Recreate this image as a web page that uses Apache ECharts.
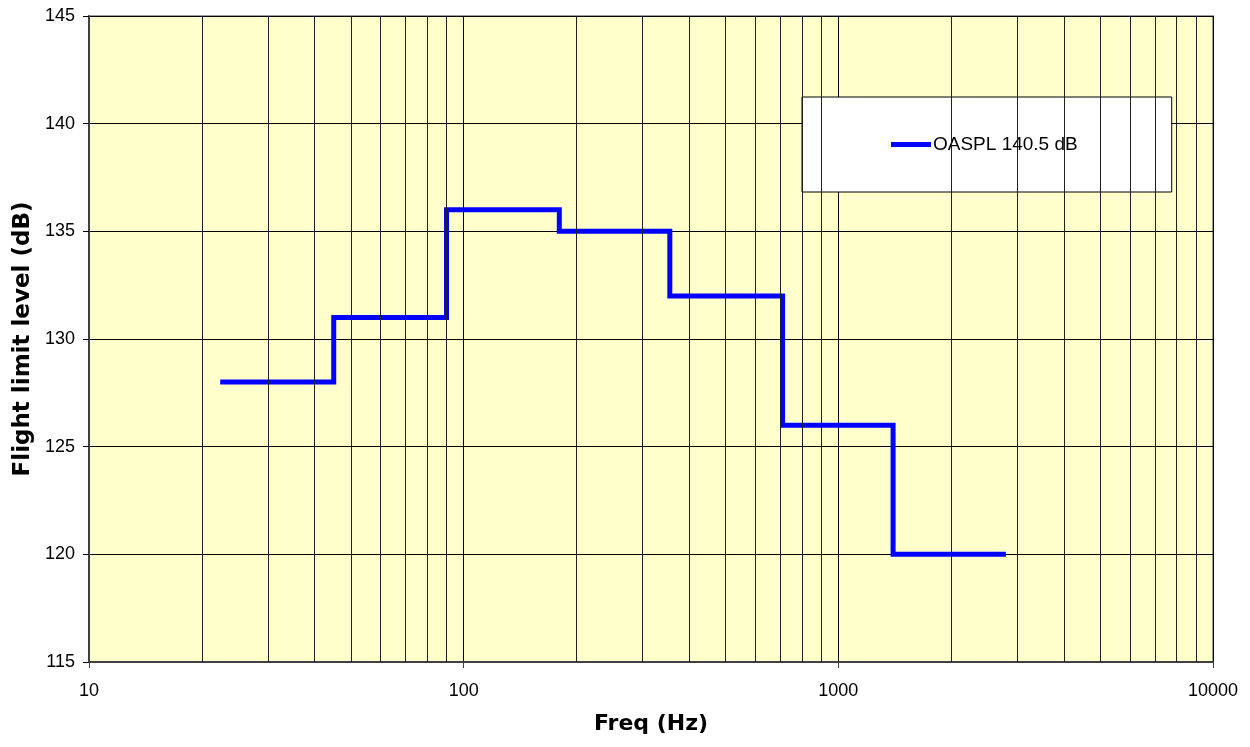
<!DOCTYPE html>
<html>
<head>
<meta charset="utf-8">
<title>Flight limit level</title>
<script src="https://cdn.jsdelivr.net/npm/echarts@6/dist/echarts.min.js"></script>
<style>
  html, body { margin: 0; padding: 0; background: #ffffff; }
  #chart { width: 1250px; height: 747px; }
</style>
</head>
<body>
<div id="chart"></div>
<script>
// Octave band edges (Hz) and the flight limit level in each band (dB)
const bandEdges = [22.4, 45, 90, 180, 355, 710, 1400, 2800];
const bandLevels = [128, 131, 136, 135, 132, 126, 120];
const seriesName = 'OASPL 140.5 dB';

// Intermediate log-grid positions between decades
const minorGridFreqs = [20, 30, 40, 50, 60, 70, 80, 90,
                        200, 300, 400, 500, 600, 700, 800, 900,
                        2000, 3000, 4000, 5000, 6000, 7000, 8000, 9000];

// Axis ranges
const yMin = 115, yMax = 145, yStep = 5;
const xMin = 10, xMax = 10000;

// Each band is a flat segment from its lower to upper edge
const stepData = [];
for (let i = 0; i < bandLevels.length; i++) {
  stepData.push([bandEdges[i], bandLevels[i]]);
  stepData.push([bandEdges[i + 1], bandLevels[i]]);
}

const chart = echarts.init(document.getElementById('chart'), null, { renderer: 'canvas' });

chart.setOption({
  animation: false,
  backgroundColor: '#ffffff',
  grid: {
    left: 89, right: 37, top: 16, bottom: 85,
    show: true,
    backgroundColor: '#FFFFCC',
    borderColor: '#a0a0a0',
    borderWidth: 2
  },
  legend: {
    data: [seriesName],
    left: 802,
    top: 97,
    orient: 'horizontal',
    backgroundColor: '#ffffff',
    borderColor: '#000000',
    borderWidth: 1,
    borderRadius: 0,
    padding: [38, 94, 38, 89],
    itemWidth: 40,
    itemHeight: 5,
    icon: 'rect',
    textStyle: { fontFamily: 'Liberation Sans, Arial, sans-serif', fontSize: 19, color: '#000000', padding: [0, 0, 0, -3] }
  },
  xAxis: {
    type: 'log',
    logBase: 10,
    min: xMin,
    max: xMax,
    name: 'Freq (Hz)',
    nameLocation: 'middle',
    nameGap: 51,
    nameTextStyle: { fontFamily: 'DejaVu Sans, Verdana, sans-serif', fontWeight: 'bold', fontSize: 22, color: '#000000' },
    axisLine: { show: true, lineStyle: { color: '#404040', width: 2 } },
    axisTick: { show: true, inside: false, length: 6, lineStyle: { color: '#404040', width: 1 } },
    axisLabel: {
      fontFamily: 'Liberation Sans, Arial, sans-serif', fontSize: 18, color: '#000000', margin: 20,
      formatter: v => String(Math.round(v))
    },
    splitLine: { show: true, lineStyle: { color: '#000000', width: 1 } },
    minorTick: { show: false },
    minorSplitLine: { show: false }
  },
  yAxis: {
    type: 'value',
    min: yMin,
    max: yMax,
    interval: yStep,
    name: 'Flight limit level (dB)',
    nameLocation: 'middle',
    nameGap: 50,
    nameTextStyle: { fontFamily: 'DejaVu Sans, Verdana, sans-serif', fontWeight: 'bold', fontSize: 23, color: '#000000' },
    axisLine: { show: true, lineStyle: { color: '#404040', width: 2 } },
    axisTick: { show: true, inside: false, length: 6, lineStyle: { color: '#000000', width: 1 } },
    axisLabel: { fontFamily: 'Liberation Sans, Arial, sans-serif', fontSize: 18, color: '#000000', margin: 14 },
    splitLine: { show: true, lineStyle: { color: '#000000', width: 1 } }
  },
  series: [
    {
      name: 'grid',
      type: 'line',
      data: [],
      silent: true,
      z: 1,
      markLine: {
        silent: true,
        symbol: ['none', 'none'],
        label: { show: false },
        animation: false,
        lineStyle: { type: 'solid', color: '#202020', width: 1 },
        data: minorGridFreqs.map(f => ({ xAxis: f }))
      }
    },
    {
      name: seriesName,
      type: 'line',
      data: stepData,
      z: 3,
      symbol: 'none',
      showSymbol: false,
      lineStyle: { color: '#0000FF', width: 5, join: 'miter', cap: 'butt' },
      itemStyle: { color: '#0000FF' }
    }
  ]
});
</script>
</body>
</html>
